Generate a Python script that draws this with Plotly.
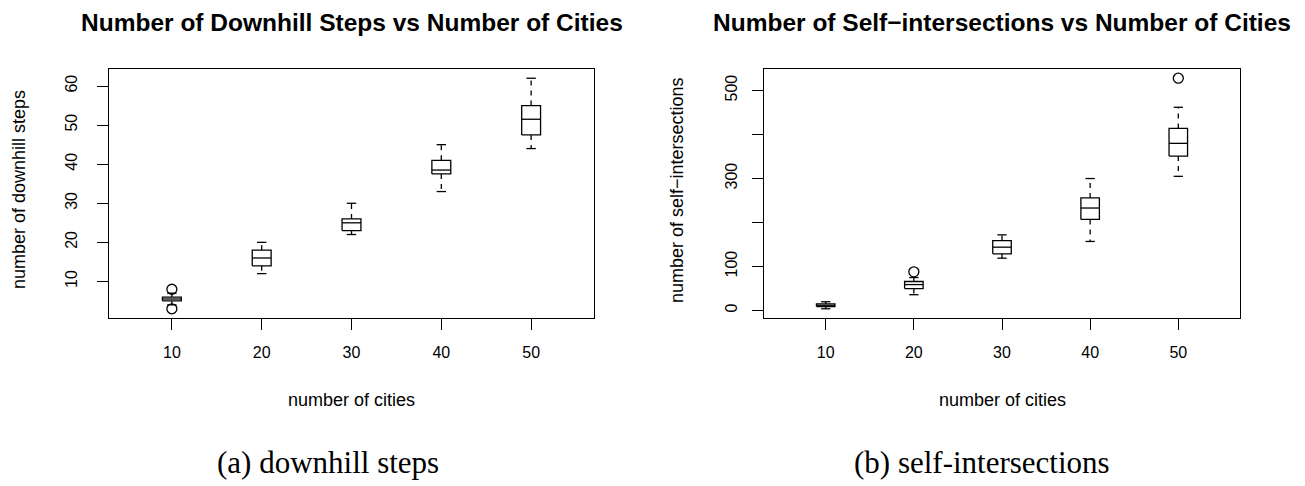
import numpy as np
import plotly.graph_objects as go

# ---------------- data ----------------
cities = ["10", "20", "30", "40", "50"]

# Downhill steps
ds_low = [4, 12, 22, 33, 44]
ds_q1 = [5, 14, 23, 37.5, 47.5]
ds_med = [5.5, 16, 25, 38.5, 51.5]
ds_q3 = [6, 18, 26, 41, 55]
ds_high = [7, 20, 30, 45, 62]
ds_out_x = [1, 1]
ds_out_y = [8, 3]

# Self-intersections
si_low = [4, 36, 119, 157, 305]
si_q1 = [9, 50, 129, 207, 351]
si_med = [12, 59, 144, 233, 380]
si_q3 = [15, 66, 159, 256, 414]
si_high = [20, 75, 172, 300, 462]
si_out_x = [2, 5]
si_out_y = [88, 528]

# ---------------- styling ----------------
BOXW = 0.21
CAPW = BOXW / 2
LW = 1.3
OFF = 8                      # page body margin of the browser
W, H = 1305 - OFF, 486 - OFF
SANS = "Liberation Sans, Arial, sans-serif"
SERIF = "Liberation Serif, serif"


def px(x):
    return (x - OFF) / W


def py(y):
    return 1 - (y - OFF) / H


fig = go.Figure()


def add_boxes(xa, ya, low, q1, med, q3, high, ox, oy):
    n = len(med)
    bx, by, mx, my, wx, wy, cx, cy = [], [], [], [], [], [], [], []
    for i in range(n):
        p = i + 1
        l, r = p - BOXW / 2, p + BOXW / 2
        bx += [l, r, r, l, l, None]
        by += [q1[i], q1[i], q3[i], q3[i], q1[i], None]
        mx += [l, r, None]
        my += [med[i], med[i], None]
        wx += [p, p, None, p, p, None]
        wy += [q3[i], high[i], None, q1[i], low[i], None]
        cx += [p - CAPW / 2, p + CAPW / 2, None, p - CAPW / 2, p + CAPW / 2, None]
        cy += [high[i], high[i], None, low[i], low[i], None]
    common = dict(xaxis=xa, yaxis=ya, mode="lines", hoverinfo="skip", showlegend=False)
    fig.add_trace(go.Scatter(x=wx, y=wy, line=dict(color="black", width=LW, dash="5px,5px"), **common))
    fig.add_trace(go.Scatter(x=cx, y=cy, line=dict(color="black", width=LW), **common))
    fig.add_trace(go.Scatter(x=bx, y=by, line=dict(color="black", width=LW), **common))
    fig.add_trace(go.Scatter(x=mx, y=my, line=dict(color="black", width=LW), **common))
    fig.add_trace(go.Scatter(x=ox, y=oy, xaxis=xa, yaxis=ya, mode="markers", hoverinfo="skip",
                             showlegend=False,
                             marker=dict(symbol="circle-open", size=10, color="black",
                                         line=dict(width=LW, color="black"))))


add_boxes("x", "y", ds_low, ds_q1, ds_med, ds_q3, ds_high, ds_out_x, ds_out_y)
add_boxes("x2", "y2", si_low, si_q1, si_med, si_q3, si_high, si_out_x, si_out_y)


def yrange(lo, hi, outs):
    a = min(min(lo), min(outs))
    b = max(max(hi), max(outs))
    e = (b - a) * 0.04
    return [a - e, b + e]


axis_common = dict(showline=True, linecolor="black", linewidth=1.2, mirror=True,
                   ticks="outside", ticklen=11, tickwidth=1.2, tickcolor="black",
                   showgrid=False, zeroline=False,
                   tickfont=dict(family=SANS, size=16, color="black"))

xd1 = [px(109), px(594)]
xd2 = [px(764), px(1240)]
yd = [py(318), py(69)]

fig.update_layout(
    width=W, height=H,
    margin=dict(l=0, r=0, t=0, b=0),
    paper_bgcolor="white", plot_bgcolor="white",
    xaxis=dict(domain=xd1, anchor="y", range=[0.3, 5.7], tickvals=[1, 2, 3, 4, 5],
               ticktext=cities, ticklabelstandoff=9, **axis_common),
    yaxis=dict(domain=yd, anchor="x", range=yrange(ds_low, ds_high, ds_out_y),
               tickvals=[10, 20, 30, 40, 50, 60], tickangle=-90, ticklabelstandoff=14, **axis_common),
    xaxis2=dict(domain=xd2, anchor="y2", range=[0.3, 5.7], tickvals=[1, 2, 3, 4, 5],
                ticktext=cities, ticklabelstandoff=9, **axis_common),
    yaxis2=dict(domain=yd, anchor="x2", range=yrange(si_low, si_high, si_out_y),
                tickvals=[0, 100, 200, 300, 400, 500],
                ticktext=["0", "100", "", "300", "", "500"],
                tickangle=-90, ticklabelstandoff=9, **axis_common),
)

ann = []
# titles
ann.append(dict(text="<b>Number of Downhill Steps vs Number of Cities</b>", x=(xd1[0] + xd1[1]) / 2,
                y=py(22), font=dict(family=SANS, size=24.5, color="black")))
ann.append(dict(text="<b>Number of Self\u2212intersections vs Number of Cities</b>", x=(xd2[0] + xd2[1]) / 2,
                y=py(22), font=dict(family=SANS, size=24.5, color="black")))
# x labels
ann.append(dict(text="number of cities", x=(xd1[0] + xd1[1]) / 2, y=py(400),
                font=dict(family=SANS, size=18, color="black")))
ann.append(dict(text="number of cities", x=(xd2[0] + xd2[1]) / 2, y=py(400),
                font=dict(family=SANS, size=18, color="black")))
# y labels
ann.append(dict(text="number of downhill steps", x=px(19), y=py(190), textangle=-90,
                font=dict(family=SANS, size=18, color="black")))
ann.append(dict(text="number of self\u2212intersections", x=px(677), y=py(190), textangle=-90,
                font=dict(family=SANS, size=18, color="black")))
# captions
ann.append(dict(text="(a) downhill steps", x=px(328), y=py(462),
                font=dict(family=SERIF, size=31, color="black")))
ann.append(dict(text="(b) self-intersections", x=px(982), y=py(462),
                font=dict(family=SERIF, size=31, color="black")))
for a in ann:
    a.update(xref="paper", yref="paper", showarrow=False, xanchor="center", yanchor="middle")
fig.update_layout(annotations=ann)

fig.write_html("out.html")
